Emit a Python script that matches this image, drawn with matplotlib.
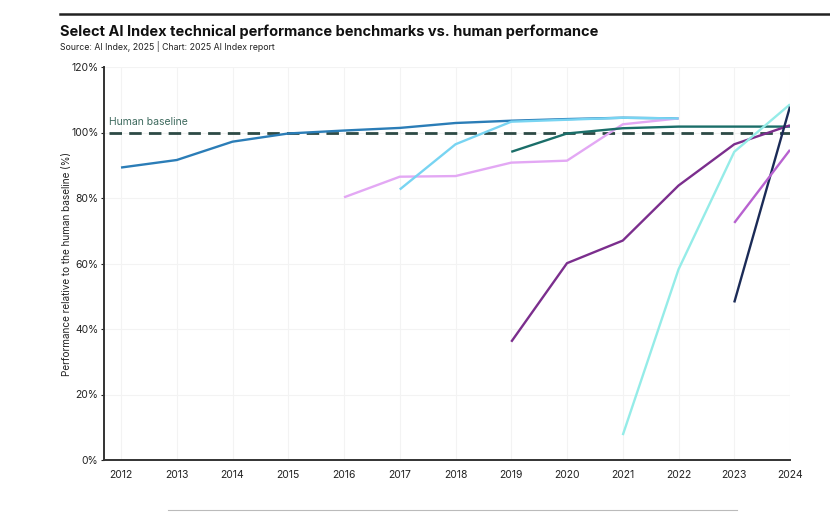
import numpy as np
import matplotlib.pyplot as plt
from matplotlib.lines import Line2D
from matplotlib.ticker import FuncFormatter

plt.rcParams['font.family'] = ['Inter', 'DejaVu Sans']

# ---- data (performance relative to human baseline, %) ----
years_all = list(range(2012, 2025))

s1_years = list(range(2012, 2023))
s1_vals = [89.3, 91.6, 97.2, 99.7, 100.6, 101.4, 102.9, 103.6, 104.1, 104.5, 104.3]

s2_years = list(range(2016, 2023))
s2_vals = [80.2, 86.5, 86.7, 90.8, 91.4, 102.5, 104.3]

s3_years = list(range(2017, 2023))
s3_vals = [82.6, 96.4, 103.3, 103.9, 104.5, 104.3]

s4_years = list(range(2019, 2025))
s4_vals = [94.1, 99.7, 101.3, 101.8, 101.8, 101.8]

s5_years = list(range(2019, 2025))
s5_vals = [36.1, 60.1, 67.0, 83.8, 96.4, 102.2]

s6_years = [2021, 2022, 2023, 2024]
s6_vals = [7.6, 58.2, 94.1, 108.6]

s7_years = [2023, 2024]
s7_vals = [48.1, 107.9]

s8_years = [2023, 2024]
s8_vals = [72.4, 94.7]

series = [
    (s1_years, s1_vals, '#2b7db7'),
    (s2_years, s2_vals, '#e3a8f4'),
    (s3_years, s3_vals, '#78d4f2'),
    (s4_years, s4_vals, '#1b6e69'),
    (s5_years, s5_vals, '#7b2e8d'),
    (s6_years, s6_vals, '#95ece8'),
    (s7_years, s7_vals, '#1b2b57'),
    (s8_years, s8_vals, '#b862d0'),
]

human_baseline = 100

# ---- figure ----
fig = plt.figure(figsize=(8.3, 5.15), dpi=100)
ax = fig.add_axes([104 / 830, 1 - 460 / 515, (790 - 104) / 830, (460 - 67) / 515])

ax.set_xlim(2011.695, 2024)
ax.set_ylim(0, 120)

# faint grid
ax.set_xticks(years_all)
ax.set_yticks(np.arange(0, 121, 20))
ax.grid(True, color='#f3f3f3', linewidth=0.8)
ax.set_axisbelow(True)

ax.hlines(human_baseline, 2011.78, 2024, colors='#2d4a45', linestyles=(0, (4.5, 2.6)),
          linewidth=2.0, zorder=2)
ax.text(2011.78, human_baseline + 1.8, 'Human baseline', color='#3e6a5e', fontsize=7.5,
        ha='left', va='bottom')

for yrs, vals, col in series:
    ax.plot(yrs, vals, color=col, linewidth=1.7, solid_capstyle='butt', zorder=3)

ax.yaxis.set_major_formatter(FuncFormatter(lambda v, p: f'{int(v)}%'))
ax.tick_params(axis='x', length=0, labelsize=7.5, pad=7, colors='#222222')
ax.tick_params(axis='y', length=2, width=0.8, labelsize=7.5, pad=2, colors='#222222')

for side in ['top', 'right']:
    ax.spines[side].set_visible(False)
for side in ['left', 'bottom']:
    ax.spines[side].set_color('#333333')
    ax.spines[side].set_linewidth(1.4)

ax.set_ylabel('Performance relative to the human baseline (%)', fontsize=7.2, color='#222222',
              labelpad=-1)

# titles
fig.text(60 / 830, 1 - 32 / 515, 'Select AI Index technical performance benchmarks vs. human performance',
         fontsize=10.5, fontweight='bold', ha='left', va='center', color='#111111')
fig.text(60 / 830, 1 - 47 / 515, 'Source: AI Index, 2025 | Chart: 2025 AI Index report',
         fontsize=6.3, ha='left', va='center', color='#222222')

# decorative rules
fig.add_artist(Line2D([60 / 830, 1.0], [1 - 14 / 515, 1 - 14 / 515], color='#222222', linewidth=1.8))
fig.add_artist(Line2D([168 / 830, 737 / 830], [1 - 510 / 515, 1 - 510 / 515], color='#bbbbbb', linewidth=0.8))

fig.savefig('out.png', dpi=100)
